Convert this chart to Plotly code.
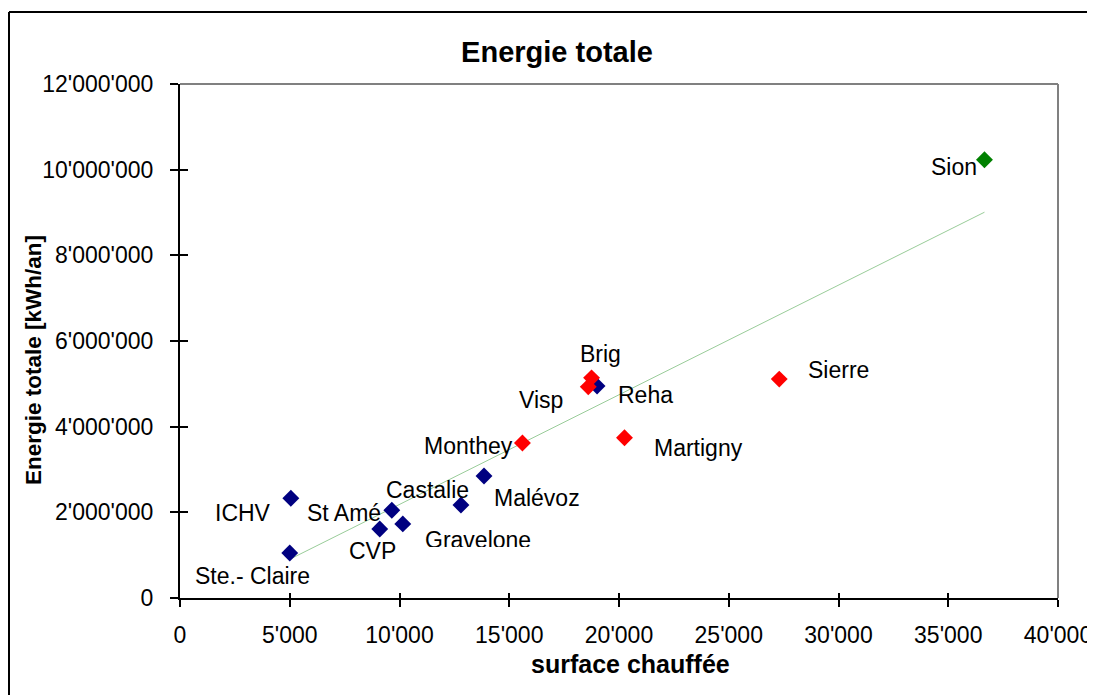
import numpy as np
import plotly.graph_objects as go

# Data
blue_names = ["Ste.- Claire", "ICHV", "CVP", "St Amé", "Gravelone", "Castalie", "Malévoz", "Reha"]
blue_x = [5000, 5050, 9100, 9650, 10150, 12800, 13850, 19000]
blue_y = [1050000, 2330000, 1610000, 2050000, 1730000, 2170000, 2850000, 4950000]

red_names = ["Monthey", "Visp", "Brig", "Martigny", "Sierre"]
red_x = [15600, 18600, 18750, 20250, 27300]
red_y = [3620000, 4930000, 5140000, 3740000, 5110000]

green_names = ["Sion"]
green_x = [36650]
green_y = [10230000]

x_ticks = [0, 5000, 10000, 15000, 20000, 25000, 30000, 35000, 40000]
y_ticks = [0, 2000000, 4000000, 6000000, 8000000, 10000000, 12000000]

# label offsets in pixels (dx right, dy up), and optional clip height
label_style = {
    "Ste.- Claire": (-37, -23, None),
    "ICHV": (-48, -15, None),
    "CVP": (-7, -22, None),
    "St Amé": (-48, -3, None),
    "Gravelone": (75, -13, 20),
    "Castalie": (-33, 15, None),
    "Malévoz": (53, -22, None),
    "Reha": (48, -9, None),
    "Monthey": (-54, -3, None),
    "Visp": (-47, -13, None),
    "Brig": (9, 24, None),
    "Martigny": (74, -10, None),
    "Sierre": (59, 9, None),
    "Sion": (-30, -7, None),
}

FONT = "Liberation Sans, Arial, sans-serif"
W, H = 1087, 687
L, T, PW, PH = 172, 76, 878, 514


def px_x(px):  # page pixel -> paper x
    return (px - 8 - L) / PW


def px_y(py):  # page pixel -> paper y
    return (T + 8 + PH - py) / PH


fig = go.Figure()

# trend line (least squares over all points)
all_x = np.array(blue_x + red_x + green_x, dtype=float)
all_y = np.array(blue_y + red_y + green_y, dtype=float)
slope, intercept = np.polyfit(all_x, all_y, 1)
tx = np.array([all_x.min(), all_x.max()])
fig.add_trace(go.Scatter(x=tx, y=slope * tx + intercept, mode="lines",
                         line=dict(color="#99cc99", width=1), hoverinfo="skip"))

for xs, ys, col in [(blue_x, blue_y, "#000080"), (red_x, red_y, "#ff0000"), (green_x, green_y, "#008000")]:
    fig.add_trace(go.Scatter(x=xs, y=ys, mode="markers",
                             marker=dict(symbol="diamond", size=13, color=col, line=dict(width=0))))

# invisible trace for the overlay axes (inside tick halves)
fig.add_trace(go.Scatter(x=[None], y=[None], xaxis="x2", yaxis="y2", showlegend=False))

annotations = []
for names, xs, ys in [(blue_names, blue_x, blue_y), (red_names, red_x, red_y), (green_names, green_x, green_y)]:
    for n, xv, yv in zip(names, xs, ys):
        dx, dy, h = label_style[n]
        a = dict(x=xv, y=yv, xref="x", yref="y", text=n, showarrow=False,
                 xshift=dx, yshift=dy, font=dict(family=FONT, size=23, color="black"))
        if h is not None:
            a["height"] = h
            a["valign"] = "top"
        annotations.append(a)

# axis titles
annotations.append(dict(text="<b>surface chauffée</b>", xref="paper", yref="paper",
                        x=px_x(630), y=px_y(664), xanchor="center", yanchor="middle",
                        showarrow=False, font=dict(family=FONT, size=25, color="black")))
annotations.append(dict(text="<b>Energie totale [kWh/an]</b>", xref="paper", yref="paper",
                        x=px_x(33), y=px_y(360), xanchor="center", yanchor="middle", textangle=-90,
                        showarrow=False, font=dict(family=FONT, size=22.5, color="black")))

fig.update_layout(
    width=W, height=H,
    margin=dict(l=L, r=W - L - PW, t=T, b=H - T - PH, autoexpand=False),
    paper_bgcolor="white", plot_bgcolor="white",
    showlegend=False,
    separators=".'",
    font=dict(family=FONT, size=22, color="black"),
    title=dict(text="<b>Energie totale</b>", x=549 / W, xanchor="center", y=1 - 44 / H, yanchor="middle",
               font=dict(family=FONT, size=29, color="black")),
    annotations=annotations,
    xaxis=dict(range=[0, 40000], tickvals=x_ticks, tickformat=",d", automargin=False,
               showgrid=False, zeroline=False, showline=True, linecolor="black", linewidth=2,
               ticks="outside", ticklen=7, tickwidth=1.5, tickcolor="black",
               ticklabelstandoff=8,
               tickfont=dict(family=FONT, size=23)),
    yaxis=dict(range=[0, 12000000], tickvals=y_ticks, tickformat=",d", automargin=False,
               showgrid=False, zeroline=False, showline=True, linecolor="black", linewidth=2,
               ticks="outside", ticklen=8, tickwidth=1.5, tickcolor="black",
               ticklabelstandoff=12,
               tickfont=dict(family=FONT, size=23)),
    xaxis2=dict(overlaying="x", range=[0, 40000], tickvals=x_ticks, showticklabels=False, automargin=False,
                showgrid=False, zeroline=False, showline=False,
                ticks="inside", ticklen=5, tickwidth=1.5, tickcolor="black", side="bottom"),
    yaxis2=dict(overlaying="y", range=[0, 12000000], tickvals=y_ticks, showticklabels=False, automargin=False,
                showgrid=False, zeroline=False, showline=False,
                ticks="inside", ticklen=8, tickwidth=1.5, tickcolor="black", side="left"),
    shapes=[
        dict(type="line", xref="paper", yref="paper", x0=0, x1=1, y0=1, y1=1,
             line=dict(color="#808080", width=2)),
        dict(type="line", xref="paper", yref="paper", x0=1, x1=1, y0=0, y1=1,
             line=dict(color="#808080", width=2)),
        # outer chart border (left and top edges)
        dict(type="line", xref="paper", yref="paper",
             x0=(1 - L) / PW, x1=(1 - L) / PW, y0=-(H - T - PH) / PH, y1=(PH + T - 4) / PH,
             line=dict(color="black", width=2)),
        dict(type="line", xref="paper", yref="paper",
             x0=(1 - L) / PW, x1=(W - L) / PW, y0=(PH + T - 4) / PH, y1=(PH + T - 4) / PH,
             line=dict(color="black", width=2)),
    ],
)

fig.write_html("out.html")
